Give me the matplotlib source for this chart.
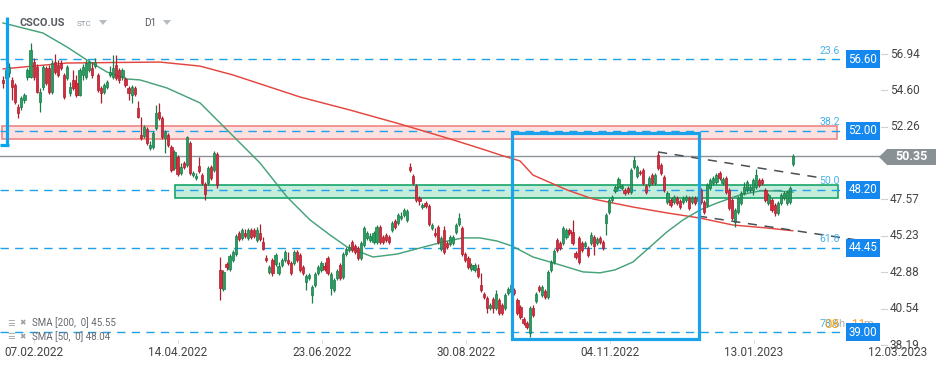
import matplotlib
matplotlib.use("Agg")
import matplotlib.pyplot as plt
from matplotlib.patches import Rectangle, Polygon
import numpy as np

# ---------------- data ----------------
opens = [55.27,55.39,55.72,55.27,54.94,53.53,53.53,53.98,55.46,55.46,56.42,56.10,53.85,54.81,56.04,56.04,54.49,56.42,56.23,56.36,
         55.59,55.39,54.43,55.27,55.08,54.30,55.59,55.46,55.91,56.04,56.16,55.59,54.75,54.49,54.81,55.59,55.46,56.23,55.91,55.46,
         55.33,54.75,54.30,54.75,53.46,51.72,51.66,52.11,50.89,50.95,52.18,53.20,52.82,51.53,51.72,50.95,49.60,50.31,49.27,49.92,
         49.79,51.21,49.14,48.95,49.72,49.14,48.56,48.63,49.66,49.47,50.50,43.03,41.80,43.41,43.09,43.67,44.05,45.41,45.09,45.41,
         45.09,45.60,45.60,44.96,45.41,44.83,43.80,42.90,43.67,43.41,42.84,43.35,43.67,43.67,43.48,43.48,44.18,43.99,43.22,42.26,
         42.51,41.41,42.06,42.84,43.03,43.28,43.80,41.87,41.74,42.51,43.35,42.58,44.05,44.31,44.83,44.57,44.44,43.80,44.64,45.09,44.96,
         44.83,44.83,45.79,45.15,45.28,45.15,45.60,46.18,46.05,46.38,46.57,46.25,49.66,49.08,48.44,47.66,47.08,47.34,47.15,45.73,
         45.41,45.79,44.38,45.60,44.76,44.70,44.76,45.47,45.99,45.73,44.05,43.80,43.09,43.03,43.16,42.06,41.48,41.22,40.58,41.16,
         40.58,41.09,40.77,40.58,41.54,41.61,41.74,41.09,40.64,39.87,39.61,38.97,40.58,41.03,41.93,41.41,41.67,41.29,43.03,43.54,
         44.96,44.76,44.76,45.15,45.60,45.47,44.12,45.09,44.76,44.57,44.44,44.76,45.15,44.76,45.09,44.83,46.05,46.76,47.53,48.12,
         48.37,48.31,48.18,48.31,48.05,49.66,49.08,49.34,49.47,48.44,48.50,49.14,48.63,50.44,49.79,49.02,47.40,47.53,47.40,
         47.66,47.47,47.40,47.53,47.66,47.40,47.66,47.47,48.18,47.40,47.21,48.31,48.63,48.69,49.27,48.63,48.95,48.18,47.53,
         46.12,46.76,47.34,47.99,48.18,48.18,48.18,48.37,48.82,48.82,48.18,47.34,47.53,47.21,46.70,47.34,47.66,47.34,
         47.40,49.85]
highs = [55.52,56.04,56.36,55.46,55.08,53.72,54.24,54.43,56.04,57.65,56.68,56.29,54.75,56.23,56.16,56.23,56.55,56.94,56.55,56.55,
         55.72,56.23,55.14,55.91,55.59,56.04,56.29,56.55,56.55,56.42,56.68,55.72,54.88,55.08,55.27,56.16,56.88,56.88,56.04,56.04,
         55.46,54.88,54.94,54.88,53.91,52.88,52.37,52.24,51.34,51.98,53.66,53.79,52.95,52.05,51.85,51.08,50.76,50.44,49.92,50.05,
         51.66,51.34,49.40,49.27,50.31,49.27,48.69,49.72,49.79,50.69,50.63,43.86,43.03,43.54,44.05,44.31,45.34,45.54,45.73,45.67,
         45.73,45.73,45.73,45.79,45.99,45.15,43.99,43.35,43.80,44.12,43.54,43.80,44.31,44.18,43.61,44.31,44.31,44.12,43.35,42.77,
         42.84,42.06,42.90,43.35,43.61,43.54,43.93,42.90,42.51,43.09,43.48,44.18,44.51,44.70,44.96,44.70,44.57,44.89,45.86,45.54,45.41,
         45.54,45.92,45.92,45.28,45.41,45.28,46.18,46.31,46.70,46.76,47.02,46.95,49.92,49.21,48.56,47.79,47.34,47.47,47.27,46.05,
         45.73,45.92,45.21,45.86,44.89,45.28,45.28,46.05,46.70,45.86,44.18,43.93,43.48,43.48,43.41,42.84,41.61,41.35,40.90,41.29,
         41.74,41.22,40.90,41.54,41.93,42.19,41.87,41.22,40.77,40.00,39.74,40.71,40.77,41.61,42.06,42.06,41.80,43.03,43.67,44.38,
         45.09,44.89,45.86,45.73,45.73,46.25,44.25,45.21,44.89,44.89,44.57,45.47,45.28,45.15,45.21,44.96,46.70,47.66,47.86,48.50,
         49.02,48.56,48.31,48.44,49.60,50.37,49.79,49.47,49.60,48.56,49.08,49.27,49.27,50.63,49.92,49.14,48.12,47.66,47.86,
         47.79,47.60,47.79,47.86,47.79,47.79,47.79,47.86,48.31,47.53,48.63,48.95,49.08,49.27,49.40,49.02,49.08,48.31,47.66,
         47.02,47.79,48.12,48.69,48.82,48.50,48.95,49.53,48.95,48.95,48.31,47.99,47.66,47.34,47.47,47.99,48.12,48.18,
         48.44,50.50]
lows = [54.75,55.27,55.46,53.98,53.72,52.82,53.33,53.79,55.27,55.39,55.27,54.43,53.20,54.62,54.94,54.36,54.36,55.65,55.46,55.91,
        54.04,55.27,54.24,54.62,54.17,54.24,55.27,55.33,55.78,55.39,56.04,54.49,53.79,54.36,54.68,55.46,55.33,55.27,55.08,55.27,
        54.81,53.98,53.79,54.24,52.82,51.40,51.53,51.08,50.76,50.82,52.05,52.69,51.46,50.56,50.95,49.34,49.47,49.08,49.14,49.53,
        49.66,49.14,49.02,48.82,49.27,48.50,47.53,48.50,48.82,49.34,48.31,41.09,41.67,43.03,42.96,43.54,43.93,44.89,44.96,45.09,
        44.96,45.02,45.09,44.83,44.89,44.31,43.54,42.77,42.64,43.28,42.71,43.22,43.54,43.35,42.71,43.35,43.54,42.90,42.71,41.74,
        42.38,40.89,41.93,42.71,42.90,42.96,42.71,41.41,41.61,42.38,42.38,42.45,43.93,44.18,44.18,44.05,43.67,43.67,44.51,44.96,44.83,
        44.70,44.70,44.70,44.70,44.83,44.70,45.47,45.67,45.92,46.25,46.44,46.12,49.34,48.50,47.40,47.21,46.95,47.02,45.86,45.60,
        45.15,44.70,44.25,44.05,44.38,44.57,44.64,45.34,45.86,43.93,43.54,43.09,42.96,42.90,42.51,41.61,41.16,40.26,40.45,40.26,
        40.45,40.13,40.13,40.45,41.41,41.48,41.41,40.13,39.87,39.48,39.23,38.71,40.00,40.90,41.61,41.29,41.16,41.16,42.90,43.41,
        44.18,44.31,44.64,45.02,45.28,44.64,43.73,43.41,44.18,44.44,43.86,44.64,43.99,44.64,44.70,44.31,45.28,46.63,47.40,47.99,
        48.24,48.18,47.86,47.92,47.92,49.53,48.95,49.14,48.50,47.92,48.37,48.50,48.50,49.47,49.14,48.05,47.27,47.08,47.27,
        47.21,46.95,47.27,47.40,46.89,47.27,47.21,47.34,47.27,46.63,47.08,48.18,48.50,48.56,48.82,48.50,47.92,46.89,46.25,
        45.79,46.63,47.21,47.86,48.05,48.05,47.86,48.24,48.37,48.50,47.40,47.21,46.76,46.50,46.57,47.21,47.53,47.21,
        47.27,49.72]
closes = [55.08,55.91,56.10,54.81,53.85,53.14,54.11,54.30,55.91,57.20,55.46,54.49,54.49,56.10,55.08,54.49,56.36,55.78,55.59,56.04,
          54.17,56.10,54.81,54.75,54.30,55.91,56.10,56.36,56.42,55.59,56.42,54.62,54.43,54.94,55.14,55.78,56.04,55.39,55.27,55.91,
          54.94,54.43,54.81,54.36,52.88,51.53,52.24,51.21,51.08,51.85,53.14,52.82,51.59,51.92,51.08,49.47,50.63,49.21,49.66,49.66,
          51.59,49.27,49.27,49.08,49.40,48.63,47.92,49.60,48.95,50.56,48.50,41.87,42.90,43.22,43.93,44.18,45.21,45.02,45.60,45.21,
          45.60,45.15,45.21,45.60,45.02,44.38,43.67,43.22,42.84,43.99,43.28,43.67,44.18,43.48,42.84,44.18,43.67,43.03,42.84,42.64,
          42.71,41.93,42.77,43.22,43.48,43.09,42.84,42.77,42.38,42.96,42.51,44.05,44.38,44.51,44.31,44.18,43.80,44.76,45.73,45.41,45.21,
          45.41,45.79,44.83,44.83,44.96,44.83,46.05,45.79,46.57,46.50,46.89,46.82,49.47,48.63,47.53,47.47,47.21,47.15,45.99,45.92,
          45.28,44.83,45.09,44.18,44.51,45.15,45.15,45.92,46.38,44.05,43.67,43.22,43.35,43.35,42.64,41.74,41.29,40.58,40.77,40.58,
          41.48,40.26,40.26,41.41,41.80,42.06,41.54,40.26,40.00,39.61,39.35,40.58,40.13,41.48,41.74,41.93,41.29,42.90,43.54,44.25,
          44.31,44.44,45.73,45.60,45.41,44.76,43.86,43.54,44.31,44.76,43.99,45.28,44.57,45.02,44.83,44.44,46.57,47.53,47.73,48.37,
          48.89,48.44,47.99,48.05,49.47,50.11,49.66,49.27,48.63,48.05,48.95,48.63,49.14,49.60,49.27,48.18,47.99,47.21,47.73,
          47.34,47.08,47.66,47.73,47.02,47.66,47.34,47.73,47.40,46.76,48.50,48.82,48.95,49.14,48.95,48.89,48.05,47.02,46.37,
          46.89,47.66,47.99,48.37,48.69,48.37,48.82,49.14,48.50,48.63,47.53,47.86,46.89,46.70,47.34,47.86,47.99,48.05,
          48.31,50.35]

sma200_idx = [0, 20.9, 51.27, 64.34, 75.11, 97.0, 113.3, 129.65, 145.98, 157.41, 162.31, 168.84, 173.09, 184.19, 192.68,
              205.75, 216.85, 227.63, 238.41, 249.51, 258.0]
sma200_val = [55.98, 56.36, 56.42, 56.16, 55.59, 54.17, 53.33, 52.43, 51.47, 50.76, 50.44, 50.05, 49.14, 48.18, 47.60,
              47.08, 46.70, 46.37, 45.92, 45.73, 45.55]
sma50_idx = [0, 13.06, 20.9, 27.43, 33.96, 40.5, 44.74, 53.56, 64.34, 70.87, 73.15, 83.93, 92.75, 100.26, 106.79, 112.35,
             120.84, 128.67, 136.18, 143.7, 150.23, 155.78, 161.33, 166.23, 173.09, 180.93, 189.42, 194.97, 199.87, 205.75,
             211.3, 216.85, 222.08, 227.63, 233.17, 240.69, 247.22, 252.77, 258.0]
sma50_val = [58.94, 58.29, 57.39, 56.55, 55.78, 55.33, 55.27, 54.75, 53.79, 52.50, 52.05, 49.92, 47.73, 46.25, 45.28, 44.51,
             43.86, 44.05, 44.44, 44.83, 45.09, 45.09, 44.89, 44.57, 43.86, 43.41, 42.90, 42.84, 43.03, 43.54,
             44.51, 45.48, 46.25, 46.89, 47.34, 47.86, 48.12, 48.12, 48.04]

levels = [56.60, 52.00, 48.20, 44.45, 39.00]
fib_labels = ["23.6", "38.2", "50.0", "61.8", "78.6"]
price_ticks = [56.94, 54.60, 52.26, 47.57, 45.23, 42.88, 40.54, 38.19]
date_labels = ["07.02.2022", "14.04.2022", "23.06.2022", "30.08.2022", "04.11.2022", "13.01.2023", "12.03.2023"]
last_price = 50.35
red_zone = (51.44, 52.30)
green_zone = (47.64, 48.50)
upper_trend = ([213.91, 267.47], [50.63, 48.95])
lower_trend = ([226.98, 283.15], [46.50, 44.83])
box_idx = (166.23, 227.31)
box_price = (38.58, 51.85)
sma200_last = 45.55
sma50_last = 48.04

# ---------------- figure / coordinate helpers ----------------
W, H = 949, 370
fig = plt.figure(figsize=(W / 100, H / 100), dpi=100)
ax = fig.add_axes([0, 0, 1, 1])
PX_PER_IDX = 3.062
X0 = 3.0
def xi(px):  # pixel x -> index units
    return (px - X0) / PX_PER_IDX
def yp(py):  # pixel y -> price units
    return 56.94 - (py - 54) * 0.06443
ax.set_xlim(xi(0), xi(W))
ax.set_ylim(yp(H), yp(0))
ax.axis("off")

BLUE = "#1ea0ea"
GREEN_C = "#25a060"
GREEN_E = "#1b7a48"
RED_C = "#dc2a3c"
RED_E = "#a81f2d"

# zones
ax.add_patch(Rectangle((xi(2), red_zone[0]), xi(837) - xi(2), red_zone[1] - red_zone[0],
                       facecolor="#fde1e1", edgecolor="#ef8585", lw=1.2, zorder=1))
ax.add_patch(Rectangle((xi(175), green_zone[0]), xi(838) - xi(175), green_zone[1] - green_zone[0],
                       facecolor="#c4eddb", edgecolor="#17a66a", lw=1.2, zorder=1))

# level dashed lines
for lv in levels:
    ax.plot([xi(0), xi(843)], [lv, lv], color=BLUE, lw=1.0, dashes=(6, 4.5), zorder=2)

# last price line
ax.plot([xi(0), xi(880)], [last_price, last_price], color="#8c9296", lw=1.0, zorder=2)

# SMA lines
ax.plot(sma200_idx, sma200_val, color="#e4463f", lw=1.05, zorder=3, solid_capstyle="round")
ax.plot(sma50_idx, sma50_val, color="#3c9e72", lw=1.05, zorder=3, alpha=0.95)

# candles
n = min(len(opens), len(highs), len(lows), len(closes))
idx = np.arange(n)
o = np.array(opens[:n]); c = np.array(closes[:n]); h = np.array(highs[:n]); l = np.array(lows[:n])
up = c >= o
for mask, fc, ec in ((up, GREEN_C, GREEN_E), (~up, RED_C, RED_E)):
    ax.vlines(idx[mask], l[mask], h[mask], color=ec, lw=0.9, zorder=4)
    bottoms = np.minimum(o, c)[mask]
    heights = np.maximum(np.abs(c - o)[mask], 0.04)
    ax.bar(idx[mask], heights, bottom=bottoms, width=0.72, color=fc, edgecolor=ec, lw=0.5, zorder=5)

# trend lines
for tl in (upper_trend, lower_trend):
    ax.plot(tl[0], tl[1], color="#4a4f55", lw=1.1, dashes=(6, 5), zorder=6)

# blue rectangle
ax.add_patch(Rectangle((box_idx[0], box_price[0]), box_idx[1] - box_idx[0], box_price[1] - box_price[0],
                       facecolor="none", edgecolor="#1ba3ea", lw=2.3, zorder=7))

# left bracket
ax.plot([xi(7.5), xi(7.5)], [yp(17), yp(145)], color="#0aa4ef", lw=2.3, zorder=7, solid_capstyle="butt")
ax.plot([xi(0), xi(8.5)], [yp(145), yp(145)], color="#0aa4ef", lw=2.3, zorder=7, solid_capstyle="butt")

# level labels (blue boxes) and fib labels
for lv, fl in zip(levels, fib_labels):
    ax.text(xi(863), lv, f"{lv:.2f}", ha="center", va="center", color="white", fontsize=8.3,
            family="Roboto", zorder=9,
            bbox=dict(boxstyle="square,pad=0.22", facecolor="#1488ee", edgecolor="none"))
    ax.text(xi(840), lv + 0.55, fl, ha="right", va="center", color="#48b2ea", fontsize=7.6,
            family="Roboto", zorder=8)

# countdown
ax.text(xi(824), yp(325), "08", color="#f5a01a", fontsize=9.5, family="Roboto", va="center", ha="left", zorder=8)
ax.text(xi(838), yp(324), "h", color="#b0b0b0", fontsize=8, family="Roboto", va="center", ha="left", zorder=8)
ax.text(xi(852), yp(324), "11", color="#f5a01a", fontsize=8.5, family="Roboto", va="center", ha="left", zorder=8)
ax.text(xi(863), yp(324), "m", color="#b0b0b0", fontsize=8, family="Roboto", va="center", ha="left", zorder=8)

# price axis ticks
for pt in price_ticks:
    ax.plot([xi(881), xi(887)], [pt, pt], color="#cfd3d6", lw=0.8)
    ax.text(xi(890), pt, f"{pt:.2f}", ha="left", va="center", color="#444444", fontsize=8.5, family="Roboto")

# last price tag
tag = Polygon([[xi(879), yp(157)], [xi(887), yp(149)], [xi(936), yp(149)], [xi(936), yp(165)], [xi(887), yp(165)]],
              closed=True, facecolor="#899195", edgecolor="none", zorder=9)
ax.add_patch(tag)
ax.text(xi(912), last_price, f"{last_price:.2f}", ha="center", va="center", color="white", fontsize=9,
        family="Roboto", fontweight="bold", zorder=10)

# date labels
for k, dl in enumerate(date_labels):
    cx = 34 + 144 * k
    ax.plot([xi(cx), xi(cx)], [yp(340), yp(343)], color="#dddddd", lw=0.8)
    ax.text(xi(cx), yp(353), dl, ha="center", va="center", color="#444444", fontsize=8.5, family="Roboto")

# header
ax.text(xi(20), yp(23), "CSCO.US", ha="left", va="center", color="#555a60", fontsize=7.8, family="Roboto", fontweight="bold")
ax.text(xi(77), yp(24), "STC", ha="left", va="center", color="#8a96a3", fontsize=5.8, family="Roboto")
ax.text(xi(144), yp(23), "D1", ha="left", va="center", color="#555a60", fontsize=7.2, family="Roboto")
for tx in (103, 167):
    ax.add_patch(Polygon([[xi(tx - 4), yp(20)], [xi(tx + 4), yp(20)], [xi(tx), yp(25)]], closed=True,
                         facecolor="#b5bcc3", edgecolor="none"))

# SMA legend
for yy, txt in ((323, f"SMA [200,  0] {sma200_last:.2f}"), (337, f"SMA [50,  0] {sma50_last:.2f}")):
    ax.text(xi(7), yp(yy), "☰", ha="left", va="center", color="#9aa0a6", fontsize=6, family="DejaVu Sans")
    ax.text(xi(19), yp(yy), "✖", ha="left", va="center", color="#9aa0a6", fontsize=5.5, family="DejaVu Sans")
    ax.text(xi(32), yp(yy), txt, ha="left", va="center", color="#666a70", fontsize=7, family="Roboto")

fig.savefig("out.png", dpi=100)
